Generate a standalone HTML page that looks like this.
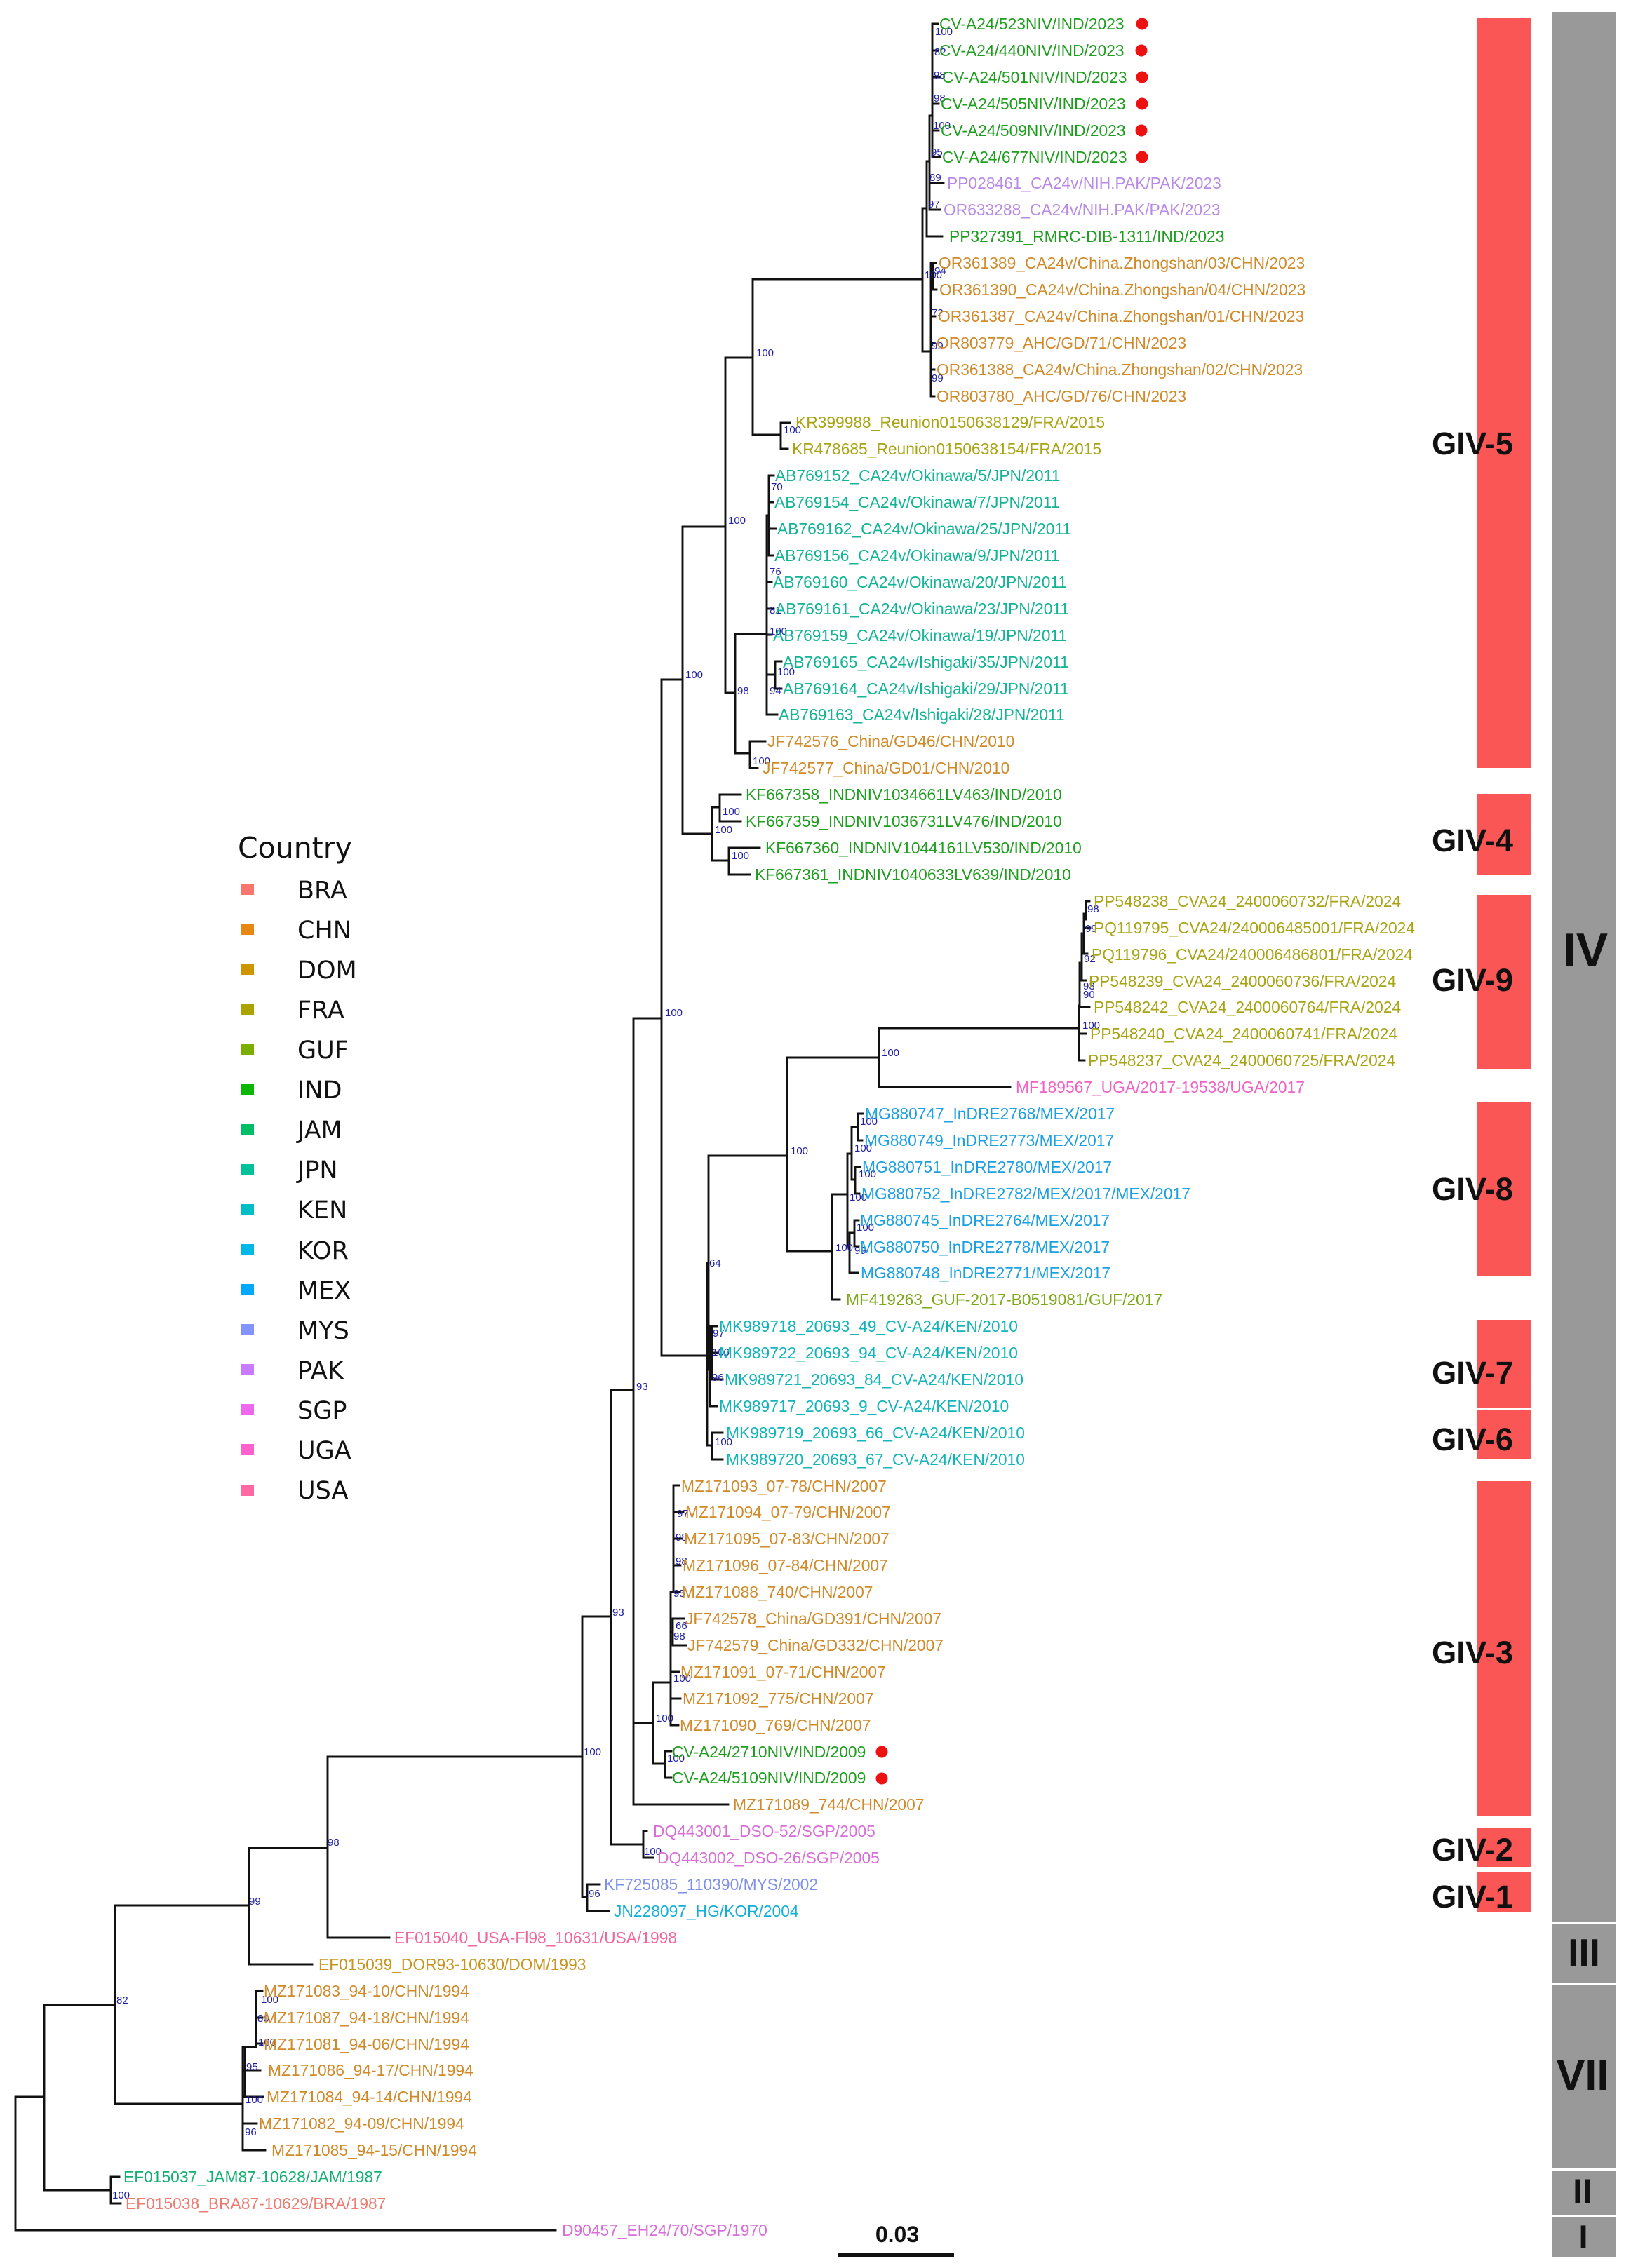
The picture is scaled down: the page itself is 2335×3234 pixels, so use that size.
<!DOCTYPE html>
<html><head><meta charset="utf-8"><style>
html,body{margin:0;padding:0;background:#fff}
svg{display:block}
.t{font-family:"Liberation Sans",Arial,sans-serif;font-size:22.8px}
.b{font-family:"Liberation Sans",Arial,sans-serif;font-size:15px;fill:#1e1ea6}
.g{font-family:"Liberation Sans",Arial,sans-serif;font-weight:bold;font-size:45px;fill:#111}
.r{font-family:"Liberation Sans",Arial,sans-serif;font-weight:bold;fill:#111;text-anchor:middle}
.lg{font-family:"DejaVu Sans",sans-serif;font-size:35px;fill:#111}
.IND{fill:#1E9E1E}.CHN{fill:#D08A2A}.PAK{fill:#B98AE6}.FRA{fill:#A8A414}.JPN{fill:#12B495}.KEN{fill:#12B5BA}
.MEX{fill:#1CA0E2}.GUF{fill:#7CA81A}.UGA{fill:#F062C4}.SGP{fill:#D86ED8}.MYS{fill:#7F90E8}.KOR{fill:#12B0D8}
.USA{fill:#F0679C}.DOM{fill:#C99520}.JAM{fill:#12B070}.BRA{fill:#EE7A70}
</style></head><body>
<svg width="2335" height="3234" viewBox="0 0 2335 3234" xmlns="http://www.w3.org/2000/svg">
<rect width="2335" height="3234" fill="#fff"/>
<!-- clade boxes -->
<g fill="#FA5656">
<rect x="2105" y="26" width="78" height="1069"/>
<rect x="2105" y="1132" width="78" height="115"/>
<rect x="2105" y="1276" width="78" height="248"/>
<rect x="2105" y="1571" width="78" height="248"/>
<rect x="2105" y="1882" width="78" height="125"/>
<rect x="2105" y="2010" width="78" height="71"/>
<rect x="2105" y="2112" width="78" height="477"/>
<rect x="2105" y="2607" width="78" height="55"/>
<rect x="2105" y="2670" width="78" height="57"/>
</g>
<g fill="#999">
<rect x="2212" y="17" width="91" height="2724"/>
<rect x="2212" y="2744" width="91" height="83"/>
<rect x="2212" y="2830" width="91" height="261"/>
<rect x="2212" y="3095" width="91" height="63"/>
<rect x="2212" y="3161" width="91" height="58"/>
</g>
<text class="g" x="2041" y="648" textLength="116" lengthAdjust="spacingAndGlyphs">GIV-5</text>
<text class="g" x="2041" y="1214" textLength="116" lengthAdjust="spacingAndGlyphs">GIV-4</text>
<text class="g" x="2041" y="1413" textLength="116" lengthAdjust="spacingAndGlyphs">GIV-9</text>
<text class="g" x="2041" y="1711" textLength="116" lengthAdjust="spacingAndGlyphs">GIV-8</text>
<text class="g" x="2041" y="1973" textLength="116" lengthAdjust="spacingAndGlyphs">GIV-7</text>
<text class="g" x="2041" y="2068" textLength="116" lengthAdjust="spacingAndGlyphs">GIV-6</text>
<text class="g" x="2041" y="2372" textLength="116" lengthAdjust="spacingAndGlyphs">GIV-3</text>
<text class="g" x="2041" y="2653" textLength="116" lengthAdjust="spacingAndGlyphs">GIV-2</text>
<text class="g" x="2041" y="2720" textLength="116" lengthAdjust="spacingAndGlyphs">GIV-1</text>
<text class="r" x="2260" y="1378" font-size="68">IV</text>
<text class="r" x="2258" y="2803" font-size="55">III</text>
<text class="r" x="2256" y="2980" font-size="61">VII</text>
<text class="r" x="2256" y="3142" font-size="50">II</text>
<text class="r" x="2257" y="3206" font-size="47">I</text>

<!-- tree -->
<path fill="none" stroke="#111" stroke-width="2.9" stroke-linecap="square" d="
M22 2990 V3180 M22 3180 H792 M22 2990 H63 M63 2859 V3123 M63 3123 H158 M158 3104 V3142 M158 3104 H170 M158 3142 H172
M63 2859 H164 M164 2717 V3000 M164 3000 H346
M346 2919 V3066 M346 2919 H365 M365 2839 V2919 M365 2839 H374 M365 2877 H374 M365 2914 H374 M346 2952 H371 M346 2990 H375 M346 3028 H366 M346 3066 H378 M349 2919 V2990
M164 2717 H355 M355 2635 V2801 M355 2801 H445 M355 2635 H467 M467 2505 V2763 M467 2763 H555 M467 2505 H830
M830 2305 V2705 M830 2705 H837 M837 2687 V2725 M837 2687 H855 M837 2725 H868
M830 2305 H871 M871 1982 V2630 M871 2630 H917 M917 2611 V2649 M917 2611 H922 M917 2649 H931
M871 1982 H903 M903 1452 V2573 M903 2573 H1038 M903 2457 H931 M931 2399 V2515 M931 2515 H948 M948 2497 V2535 M948 2497 H957 M948 2535 H957
M931 2399 H956 M956 2270 V2460 M956 2460 H967 M956 2422 H970 M956 2384 H968 M956 2327 H959 M959 2308 V2346 M959 2308 H975 M959 2346 H978
M956 2270 H960 M960 2118 V2270 M960 2118 H968 M960 2156 H974 M960 2194 H972 M960 2232 H970 M960 2270 H969
M903 1452 H943 M943 969 V1933 M943 1933 H1008 M1008 1801 V2061 M1008 2061 H1015 M1015 2043 V2081 M1015 2043 H1030 M1015 2081 H1030
M1008 1801 H1010 M1010 1648 V1953 M1010 1953 H1012 M1012 1891 V2005 M1012 1891 H1022 M1012 1929 H1022 M1012 1967 H1030 M1012 2005 H1022 M1015 1891 V1967
M1010 1648 H1122 M1122 1508 V1784 M1122 1508 H1253 M1253 1466 V1550 M1253 1550 H1440 M1253 1466 H1538
M1538 1434 V1512 M1539 1373 V1434 M1542 1331 V1398 M1545 1303 V1359 M1548 1285 V1311
M1548 1285 H1553 M1545 1323 H1554 M1542 1360 H1550 M1539 1398 H1548 M1539 1436 H1553 M1538 1474 H1548 M1538 1512 H1546
M1122 1784 H1186 M1186 1703 V1853 M1186 1853 H1197 M1186 1703 H1208 M1208 1645 V1777
M1208 1645 H1214 M1214 1607 V1682 M1214 1607 H1223 M1223 1588 V1626 M1223 1588 H1230 M1223 1626 H1229
M1214 1682 H1219 M1219 1664 V1702 M1219 1664 H1226 M1219 1702 H1225
M1208 1777 H1211 M1211 1758 V1815 M1211 1758 H1218 M1218 1740 V1777 M1218 1740 H1224 M1218 1777 H1224 M1211 1815 H1223
M943 969 H973 M973 751 V1189 M973 1189 H1015 M1015 1151 V1227 M1015 1151 H1026 M1026 1133 V1171 M1026 1133 H1056 M1026 1171 H1056
M1015 1227 H1039 M1039 1209 V1247 M1039 1209 H1083 M1039 1247 H1069
M973 751 H1034 M1034 510 V988 M1034 988 H1048 M1048 904 V1074 M1048 1074 H1069 M1069 1057 V1095 M1069 1057 H1091 M1069 1095 H1080
M1048 904 H1093 M1093 735 V1019 M1093 735 H1096 M1096 678 V792 M1096 678 H1103 M1096 716 H1102 M1096 754 H1106 M1096 792 H1102
M1093 830 H1100 M1093 868 H1103 M1093 905 H1100 M1093 962 H1105 M1105 943 V982 M1105 943 H1114 M1105 982 H1114 M1093 1019 H1108
M1034 510 H1073 M1073 398 V620 M1073 620 H1113 M1113 603 V640 M1113 603 H1126 M1113 640 H1123
M1073 398 H1315 M1315 297 V501 M1315 297 H1321 M1321 230 V337 M1321 337 H1343 M1321 230 H1325 M1325 165 V299 M1325 299 H1340 M1325 261 H1345
M1325 165 H1329 M1329 34 V224 M1329 34 H1337 M1329 72 H1337 M1329 110 H1340 M1329 148 H1338 M1329 186 H1338 M1329 224 H1340
M1315 501 H1327 M1327 375 V565 M1330 375 V413 M1327 375 H1334 M1327 413 H1335 M1327 451 H1333 M1327 489 H1332 M1327 527 H1332 M1327 565 H1332
"/>

<!-- bootstrap labels -->
<g class="b">
<text x="1333" y="50">100</text><text x="1332" y="79">82</text><text x="1331" y="112">98</text><text x="1331" y="145">98</text><text x="1330" y="184">100</text><text x="1327" y="222">95</text><text x="1325" y="258">89</text><text x="1323" y="296">97</text>
<text x="1332" y="391">94</text><text x="1318" y="397">100</text><text x="1328" y="451">72</text><text x="1328" y="498">99</text><text x="1328" y="544">99</text>
<text x="1078" y="508">100</text><text x="1117" y="618">100</text><text x="1038" y="747">100</text><text x="1099" y="699">70</text><text x="1097" y="820">76</text><text x="1097" y="875">81</text><text x="1097" y="905">100</text><text x="1108" y="963">100</text><text x="1097" y="990">94</text><text x="1051" y="990">98</text><text x="1073" y="1090">100</text><text x="977" y="967">100</text><text x="1030" y="1162">100</text><text x="1019" y="1188">100</text><text x="1043" y="1225">100</text><text x="948" y="1449">100</text>
<text x="1550" y="1301">98</text><text x="1547" y="1329">99</text><text x="1545" y="1372">92</text><text x="1544" y="1411">93</text><text x="1544" y="1423">90</text><text x="1543" y="1467">100</text>
<text x="1257" y="1506">100</text><text x="1127" y="1646">100</text>
<text x="1226" y="1604">100</text><text x="1218" y="1642">100</text><text x="1224" y="1679">100</text><text x="1211" y="1712">100</text><text x="1221" y="1755">100</text><text x="1191" y="1784">100</text><text x="1218" y="1788">99</text>
<text x="1011" y="1806">64</text><text x="1016" y="1906">97</text><text x="1015" y="1933">100</text><text x="1015" y="1969">96</text><text x="1019" y="2061">100</text>
<text x="907" y="1982">93</text><text x="965" y="2163">97</text><text x="963" y="2197">98</text><text x="963" y="2231">98</text><text x="960" y="2277">95</text><text x="963" y="2323">66</text><text x="960" y="2338">98</text><text x="960" y="2398">100</text><text x="935" y="2455">100</text><text x="951" y="2512">100</text>
<text x="873" y="2304">93</text><text x="832" y="2503">100</text><text x="918" y="2645">100</text><text x="839" y="2705">96</text>
<text x="467" y="2632">98</text><text x="355" y="2716">99</text><text x="166" y="2857">82</text>
<text x="372" y="2856">100</text><text x="367" y="2883">80</text><text x="368" y="2917">100</text><text x="351" y="2952">95</text><text x="350" y="2999">100</text><text x="349" y="3045">96</text><text x="160" y="3135">100</text>
</g>

<!-- tip labels -->
<g class="t">
<text x="1339" y="42" class="IND">CV-A24/523NIV/IND/2023</text>
<text x="1339" y="80" class="IND">CV-A24/440NIV/IND/2023</text>
<text x="1343" y="118" class="IND">CV-A24/501NIV/IND/2023</text>
<text x="1341" y="156" class="IND">CV-A24/505NIV/IND/2023</text>
<text x="1341" y="194" class="IND">CV-A24/509NIV/IND/2023</text>
<text x="1343" y="232" class="IND">CV-A24/677NIV/IND/2023</text>
<text x="1350" y="269" class="PAK">PP028461_CA24v/NIH.PAK/PAK/2023</text>
<text x="1345" y="307" class="PAK">OR633288_CA24v/NIH.PAK/PAK/2023</text>
<text x="1353" y="345" class="IND">PP327391_RMRC-DIB-1311/IND/2023</text>
<text x="1338" y="383" class="CHN">OR361389_CA24v/China.Zhongshan/03/CHN/2023</text>
<text x="1339" y="421" class="CHN">OR361390_CA24v/China.Zhongshan/04/CHN/2023</text>
<text x="1337" y="459" class="CHN">OR361387_CA24v/China.Zhongshan/01/CHN/2023</text>
<text x="1335" y="497" class="CHN">OR803779_AHC/GD/71/CHN/2023</text>
<text x="1335" y="535" class="CHN">OR361388_CA24v/China.Zhongshan/02/CHN/2023</text>
<text x="1335" y="573" class="CHN">OR803780_AHC/GD/76/CHN/2023</text>
<text x="1134" y="610" class="FRA">KR399988_Reunion0150638129/FRA/2015</text>
<text x="1129" y="648" class="FRA">KR478685_Reunion0150638154/FRA/2015</text>
<text x="1105" y="686" class="JPN">AB769152_CA24v/Okinawa/5/JPN/2011</text>
<text x="1104" y="724" class="JPN">AB769154_CA24v/Okinawa/7/JPN/2011</text>
<text x="1108" y="762" class="JPN">AB769162_CA24v/Okinawa/25/JPN/2011</text>
<text x="1104" y="800" class="JPN">AB769156_CA24v/Okinawa/9/JPN/2011</text>
<text x="1102" y="838" class="JPN">AB769160_CA24v/Okinawa/20/JPN/2011</text>
<text x="1105" y="876" class="JPN">AB769161_CA24v/Okinawa/23/JPN/2011</text>
<text x="1102" y="914" class="JPN">AB769159_CA24v/Okinawa/19/JPN/2011</text>
<text x="1116" y="952" class="JPN">AB769165_CA24v/Ishigaki/35/JPN/2011</text>
<text x="1116" y="990" class="JPN">AB769164_CA24v/Ishigaki/29/JPN/2011</text>
<text x="1110" y="1027" class="JPN">AB769163_CA24v/Ishigaki/28/JPN/2011</text>
<text x="1094" y="1065" class="CHN">JF742576_China/GD46/CHN/2010</text>
<text x="1087" y="1103" class="CHN">JF742577_China/GD01/CHN/2010</text>
<text x="1063" y="1141" class="IND">KF667358_INDNIV1034661LV463/IND/2010</text>
<text x="1063" y="1179" class="IND">KF667359_INDNIV1036731LV476/IND/2010</text>
<text x="1091" y="1217" class="IND">KF667360_INDNIV1044161LV530/IND/2010</text>
<text x="1076" y="1255" class="IND">KF667361_INDNIV1040633LV639/IND/2010</text>
<text x="1559" y="1293" class="FRA">PP548238_CVA24_2400060732/FRA/2024</text>
<text x="1559" y="1331" class="FRA">PQ119795_CVA24/240006485001/FRA/2024</text>
<text x="1556" y="1369" class="FRA">PQ119796_CVA24/240006486801/FRA/2024</text>
<text x="1552" y="1407" class="FRA">PP548239_CVA24_2400060736/FRA/2024</text>
<text x="1559" y="1444" class="FRA">PP548242_CVA24_2400060764/FRA/2024</text>
<text x="1554" y="1482" class="FRA">PP548240_CVA24_2400060741/FRA/2024</text>
<text x="1551" y="1520" class="FRA">PP548237_CVA24_2400060725/FRA/2024</text>
<text x="1448" y="1558" class="UGA">MF189567_UGA/2017-19538/UGA/2017</text>
<text x="1233" y="1596" class="MEX">MG880747_InDRE2768/MEX/2017</text>
<text x="1232" y="1634" class="MEX">MG880749_InDRE2773/MEX/2017</text>
<text x="1229" y="1672" class="MEX">MG880751_InDRE2780/MEX/2017</text>
<text x="1228" y="1710" class="MEX">MG880752_InDRE2782/MEX/2017/MEX/2017</text>
<text x="1226" y="1748" class="MEX">MG880745_InDRE2764/MEX/2017</text>
<text x="1226" y="1786" class="MEX">MG880750_InDRE2778/MEX/2017</text>
<text x="1227" y="1823" class="MEX">MG880748_InDRE2771/MEX/2017</text>
<text x="1206" y="1861" class="GUF">MF419263_GUF-2017-B0519081/GUF/2017</text>
<text x="1025" y="1899" class="KEN">MK989718_20693_49_CV-A24/KEN/2010</text>
<text x="1025" y="1937" class="KEN">MK989722_20693_94_CV-A24/KEN/2010</text>
<text x="1033" y="1975" class="KEN">MK989721_20693_84_CV-A24/KEN/2010</text>
<text x="1025" y="2013" class="KEN">MK989717_20693_9_CV-A24/KEN/2010</text>
<text x="1035" y="2051" class="KEN">MK989719_20693_66_CV-A24/KEN/2010</text>
<text x="1035" y="2089" class="KEN">MK989720_20693_67_CV-A24/KEN/2010</text>
<text x="971" y="2127" class="CHN">MZ171093_07-78/CHN/2007</text>
<text x="977" y="2164" class="CHN">MZ171094_07-79/CHN/2007</text>
<text x="975" y="2202" class="CHN">MZ171095_07-83/CHN/2007</text>
<text x="973" y="2240" class="CHN">MZ171096_07-84/CHN/2007</text>
<text x="972" y="2278" class="CHN">MZ171088_740/CHN/2007</text>
<text x="977" y="2316" class="CHN">JF742578_China/GD391/CHN/2007</text>
<text x="980" y="2354" class="CHN">JF742579_China/GD332/CHN/2007</text>
<text x="970" y="2392" class="CHN">MZ171091_07-71/CHN/2007</text>
<text x="973" y="2430" class="CHN">MZ171092_775/CHN/2007</text>
<text x="969" y="2468" class="CHN">MZ171090_769/CHN/2007</text>
<text x="958" y="2506" class="IND">CV-A24/2710NIV/IND/2009</text>
<text x="958" y="2543" class="IND">CV-A24/5109NIV/IND/2009</text>
<text x="1045" y="2581" class="CHN">MZ171089_744/CHN/2007</text>
<text x="931" y="2619" class="SGP">DQ443001_DSO-52/SGP/2005</text>
<text x="937" y="2657" class="SGP">DQ443002_DSO-26/SGP/2005</text>
<text x="861" y="2695" class="MYS">KF725085_110390/MYS/2002</text>
<text x="875" y="2733" class="KOR">JN228097_HG/KOR/2004</text>
<text x="562" y="2771" class="USA">EF015040_USA-Fl98_10631/USA/1998</text>
<text x="454" y="2809" class="DOM">EF015039_DOR93-10630/DOM/1993</text>
<text x="376" y="2847" class="CHN">MZ171083_94-10/CHN/1994</text>
<text x="376" y="2885" class="CHN">MZ171087_94-18/CHN/1994</text>
<text x="376" y="2923" class="CHN">MZ171081_94-06/CHN/1994</text>
<text x="382" y="2960" class="CHN">MZ171086_94-17/CHN/1994</text>
<text x="380" y="2998" class="CHN">MZ171084_94-14/CHN/1994</text>
<text x="369" y="3036" class="CHN">MZ171082_94-09/CHN/1994</text>
<text x="387" y="3074" class="CHN">MZ171085_94-15/CHN/1994</text>
<text x="176" y="3112" class="JAM">EF015037_JAM87-10628/JAM/1987</text>
<text x="179" y="3150" class="BRA">EF015038_BRA87-10629/BRA/1987</text>
<text x="801" y="3188" class="SGP">D90457_EH24/70/SGP/1970</text>
</g>

<!-- red dots -->
<g fill="#EE1111">
<circle cx="1628" cy="34" r="8.5"/><circle cx="1627" cy="72" r="8.5"/><circle cx="1628" cy="110" r="8.5"/><circle cx="1628" cy="148" r="8.5"/><circle cx="1627" cy="186" r="8.5"/><circle cx="1628" cy="224" r="8.5"/>
<circle cx="1257" cy="2498" r="8.5"/><circle cx="1257" cy="2536" r="8.5"/>
</g>

<!-- legend -->
<text x="339" y="1223" font-family="DejaVu Sans, sans-serif" font-size="41" fill="#111">Country</text>
<g>
<rect x="343" y="1260" width="19" height="16" fill="#F8766D"/>
<rect x="343" y="1317" width="19" height="16" fill="#E68613"/>
<rect x="343" y="1374" width="19" height="16" fill="#CD9600"/>
<rect x="343" y="1431" width="19" height="16" fill="#ABA300"/>
<rect x="343" y="1488" width="19" height="16" fill="#7CAE00"/>
<rect x="343" y="1545" width="19" height="16" fill="#0CB702"/>
<rect x="343" y="1603" width="19" height="16" fill="#00BE67"/>
<rect x="343" y="1660" width="19" height="16" fill="#00C19A"/>
<rect x="343" y="1717" width="19" height="16" fill="#00BFC4"/>
<rect x="343" y="1774" width="19" height="16" fill="#00B8E7"/>
<rect x="343" y="1831" width="19" height="16" fill="#00A9FF"/>
<rect x="343" y="1888" width="19" height="16" fill="#8494FF"/>
<rect x="343" y="1945" width="19" height="16" fill="#C77CFF"/>
<rect x="343" y="2002" width="19" height="16" fill="#ED68ED"/>
<rect x="343" y="2059" width="19" height="16" fill="#FF61CC"/>
<rect x="343" y="2117" width="19" height="16" fill="#FF68A1"/>
</g>
<g class="lg">
<text x="424" y="1281">BRA</text>
<text x="424" y="1338">CHN</text>
<text x="424" y="1395">DOM</text>
<text x="424" y="1452">FRA</text>
<text x="424" y="1509">GUF</text>
<text x="424" y="1566">IND</text>
<text x="424" y="1623">JAM</text>
<text x="424" y="1680">JPN</text>
<text x="424" y="1737">KEN</text>
<text x="424" y="1795">KOR</text>
<text x="424" y="1852">MEX</text>
<text x="424" y="1909">MYS</text>
<text x="424" y="1966">PAK</text>
<text x="424" y="2023">SGP</text>
<text x="424" y="2080">UGA</text>
<text x="424" y="2137">USA</text>
</g>

<!-- scale bar -->
<text x="1279" y="3197" font-family="Liberation Sans, Arial, sans-serif" font-weight="bold" font-size="32" fill="#111" text-anchor="middle">0.03</text>
<rect x="1195" y="3213" width="165" height="5" fill="#111"/>
</svg>
</body></html>
